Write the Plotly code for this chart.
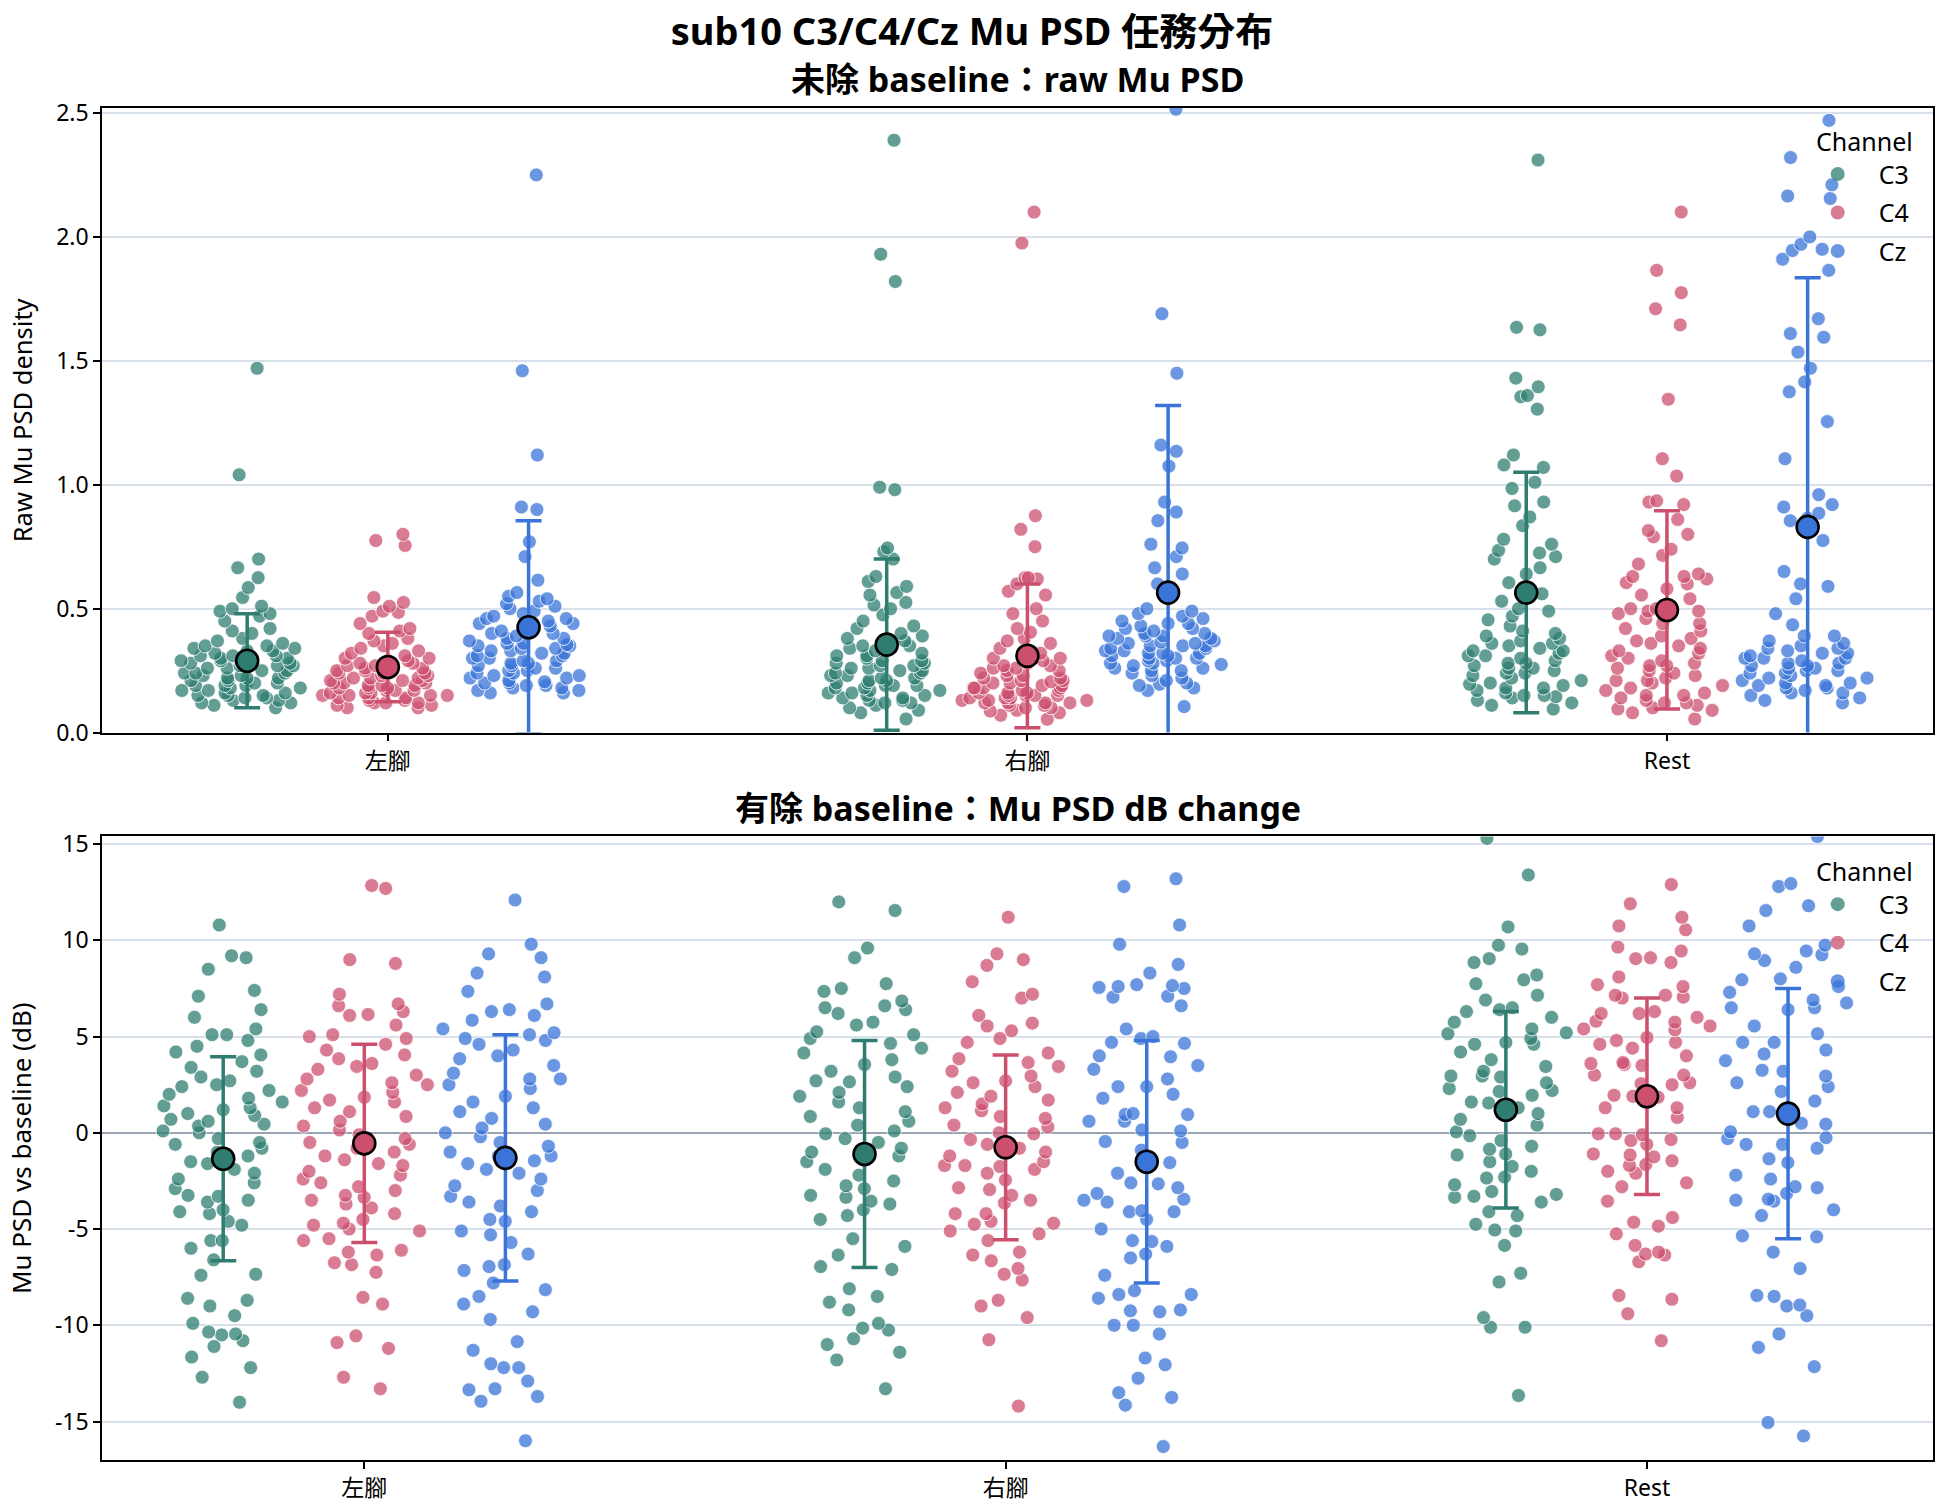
import plotly.graph_objects as go

categories = ["左腳", "右腳", "Rest"]
channels = ["C3", "C4", "Cz"]

# ---------------- raw Mu PSD (per trial) ----------------
raw_left_C3 = [1.47, 1.04, 0.70, 0.665, 0.625, 0.585, 0.545, 0.51, 0.50, 0.49, 0.48, 0.47, 0.45, 0.42, 0.41, 0.40, 0.38, 0.37, 0.36, 0.35, 0.34, 0.34, 0.33, 0.33, 0.32, 0.31, 0.31, 0.30, 0.30, 0.29, 0.29, 0.28, 0.28, 0.27, 0.27, 0.26, 0.26, 0.25, 0.25, 0.24, 0.24, 0.23, 0.23, 0.22, 0.22, 0.21, 0.21, 0.20, 0.20, 0.19, 0.19, 0.18, 0.18, 0.17, 0.17, 0.16, 0.16, 0.15, 0.15, 0.14, 0.14, 0.13, 0.13, 0.12, 0.12, 0.11, 0.15, 0.10, 0.22, 0.27, 0.31, 0.19, 0.24, 0.28, 0.35]
raw_left_C4 = [0.80, 0.775, 0.755, 0.545, 0.525, 0.51, 0.49, 0.485, 0.47, 0.44, 0.42, 0.41, 0.40, 0.38, 0.37, 0.36, 0.35, 0.34, 0.33, 0.32, 0.31, 0.30, 0.30, 0.29, 0.29, 0.28, 0.28, 0.27, 0.26, 0.26, 0.25, 0.25, 0.24, 0.24, 0.23, 0.23, 0.22, 0.22, 0.21, 0.21, 0.20, 0.20, 0.20, 0.19, 0.19, 0.18, 0.18, 0.18, 0.17, 0.17, 0.17, 0.16, 0.16, 0.16, 0.15, 0.15, 0.15, 0.14, 0.14, 0.14, 0.13, 0.13, 0.12, 0.12, 0.12, 0.11, 0.11, 0.10, 0.10, 0.24, 0.21, 0.19, 0.27, 0.22, 0.15]
raw_left_Cz = [2.25, 1.46, 1.12, 0.91, 0.90, 0.77, 0.71, 0.615, 0.565, 0.55, 0.54, 0.53, 0.52, 0.51, 0.50, 0.49, 0.48, 0.47, 0.46, 0.46, 0.45, 0.44, 0.43, 0.42, 0.41, 0.40, 0.40, 0.39, 0.38, 0.38, 0.37, 0.36, 0.36, 0.35, 0.35, 0.34, 0.34, 0.33, 0.33, 0.32, 0.32, 0.31, 0.31, 0.30, 0.30, 0.29, 0.29, 0.28, 0.28, 0.27, 0.27, 0.26, 0.26, 0.25, 0.25, 0.24, 0.24, 0.23, 0.23, 0.22, 0.22, 0.21, 0.20, 0.20, 0.19, 0.19, 0.18, 0.18, 0.17, 0.17, 0.16, 0.16, 0.355, 0.205, 0.44]
raw_right_C3 = [2.39, 1.93, 1.82, 0.99, 0.98, 0.745, 0.73, 0.70, 0.63, 0.61, 0.59, 0.565, 0.555, 0.525, 0.515, 0.50, 0.475, 0.45, 0.43, 0.42, 0.40, 0.39, 0.38, 0.37, 0.355, 0.35, 0.34, 0.33, 0.32, 0.31, 0.30, 0.29, 0.29, 0.28, 0.27, 0.27, 0.26, 0.25, 0.25, 0.24, 0.23, 0.23, 0.22, 0.22, 0.21, 0.21, 0.20, 0.20, 0.19, 0.19, 0.18, 0.18, 0.17, 0.17, 0.16, 0.16, 0.15, 0.15, 0.14, 0.14, 0.13, 0.13, 0.12, 0.12, 0.11, 0.10, 0.09, 0.08, 0.055, 0.24, 0.28, 0.31, 0.19, 0.35, 0.26]
raw_right_C4 = [2.10, 1.975, 0.875, 0.82, 0.75, 0.625, 0.625, 0.62, 0.60, 0.57, 0.555, 0.50, 0.48, 0.45, 0.42, 0.405, 0.38, 0.37, 0.36, 0.34, 0.32, 0.30, 0.30, 0.29, 0.28, 0.27, 0.27, 0.26, 0.25, 0.25, 0.24, 0.23, 0.23, 0.22, 0.22, 0.21, 0.205, 0.20, 0.20, 0.19, 0.19, 0.18, 0.18, 0.18, 0.17, 0.17, 0.16, 0.16, 0.16, 0.15, 0.15, 0.15, 0.14, 0.14, 0.14, 0.13, 0.13, 0.13, 0.12, 0.12, 0.12, 0.11, 0.11, 0.10, 0.10, 0.09, 0.087, 0.08, 0.07, 0.054, 0.21, 0.18, 0.26, 0.15, 0.12]
raw_right_Cz = [2.515, 1.69, 1.45, 1.16, 1.135, 1.075, 0.93, 0.89, 0.855, 0.76, 0.745, 0.71, 0.665, 0.64, 0.60, 0.58, 0.55, 0.50, 0.49, 0.48, 0.47, 0.46, 0.45, 0.44, 0.43, 0.42, 0.42, 0.41, 0.40, 0.40, 0.39, 0.39, 0.38, 0.38, 0.37, 0.365, 0.36, 0.36, 0.35, 0.35, 0.34, 0.34, 0.33, 0.33, 0.32, 0.32, 0.31, 0.31, 0.30, 0.30, 0.29, 0.29, 0.28, 0.275, 0.27, 0.26, 0.26, 0.25, 0.25, 0.24, 0.23, 0.22, 0.21, 0.20, 0.195, 0.19, 0.18, 0.17, 0.105, 0.39, 0.32, 0.28, 0.44, 0.35, 0.30]
raw_rest_C3 = [2.31, 1.635, 1.625, 1.43, 1.395, 1.36, 1.355, 1.305, 1.12, 1.08, 1.07, 1.01, 0.985, 0.93, 0.915, 0.87, 0.835, 0.78, 0.76, 0.735, 0.725, 0.71, 0.70, 0.665, 0.64, 0.605, 0.56, 0.53, 0.50, 0.49, 0.47, 0.455, 0.43, 0.41, 0.40, 0.39, 0.38, 0.37, 0.36, 0.35, 0.34, 0.33, 0.32, 0.31, 0.31, 0.30, 0.29, 0.28, 0.27, 0.26, 0.26, 0.25, 0.24, 0.23, 0.22, 0.21, 0.20, 0.195, 0.19, 0.18, 0.17, 0.16, 0.15, 0.145, 0.14, 0.13, 0.12, 0.11, 0.095, 0.33, 0.28, 0.24, 0.36, 0.18, 0.15]
raw_rest_C4 = [2.10, 1.865, 1.775, 1.71, 1.645, 1.345, 1.105, 1.035, 0.935, 0.93, 0.92, 0.86, 0.815, 0.80, 0.79, 0.74, 0.715, 0.68, 0.64, 0.63, 0.63, 0.62, 0.605, 0.58, 0.555, 0.54, 0.50, 0.50, 0.49, 0.49, 0.48, 0.46, 0.44, 0.42, 0.41, 0.39, 0.37, 0.36, 0.35, 0.33, 0.32, 0.31, 0.30, 0.29, 0.28, 0.27, 0.26, 0.25, 0.24, 0.23, 0.22, 0.21, 0.20, 0.19, 0.18, 0.17, 0.16, 0.15, 0.14, 0.13, 0.12, 0.11, 0.10, 0.095, 0.09, 0.08, 0.055, 0.44, 0.38, 0.27, 0.21, 0.15, 0.12, 0.60, 0.34]
raw_rest_Cz = [2.47, 2.32, 2.21, 2.165, 2.155, 2.00, 1.97, 1.95, 1.945, 1.91, 1.865, 1.67, 1.61, 1.595, 1.535, 1.47, 1.415, 1.375, 1.255, 1.105, 0.96, 0.92, 0.91, 0.885, 0.865, 0.855, 0.775, 0.65, 0.60, 0.59, 0.54, 0.48, 0.435, 0.39, 0.39, 0.37, 0.36, 0.35, 0.34, 0.33, 0.32, 0.32, 0.31, 0.30, 0.30, 0.29, 0.28, 0.28, 0.27, 0.26, 0.26, 0.25, 0.24, 0.24, 0.23, 0.22, 0.22, 0.21, 0.20, 0.20, 0.19, 0.18, 0.18, 0.17, 0.16, 0.16, 0.15, 0.14, 0.13, 0.12, 0.30, 0.25, 0.19, 0.34, 0.27]

# ---------------- Mu PSD dB change vs baseline (per trial) ----------------
db_left_C3 = [10.8, 9.2, 9.1, 8.5, 7.4, 7.1, 6.4, 6.0, 5.4, 5.1, 5.1, 4.8, 4.5, 4.2, 4.05, 3.7, 3.4, 3.2, 2.9, 2.7, 2.5, 2.4, 2.2, 2.0, 1.8, 1.6, 1.4, 1.3, 1.2, 1.0, 0.9, 0.7, 0.6, 0.45, 0.35, 0.1, 0.0, -0.3, -0.5, -0.6, -0.8, -1.0, -1.2, -1.5, -1.6, -1.9, -2.1, -2.4, -2.6, -2.9, -3.25, -3.3, -3.5, -3.6, -4.0, -4.1, -4.2, -4.6, -4.8, -5.6, -5.6, -6.0, -6.6, -7.35, -7.4, -8.6, -8.7, -9.0, -9.5, -9.9, -10.35, -10.5, -10.45, -10.8, -11.1, -11.65, -12.2, -12.7, -14.0]
db_left_C4 = [12.85, 12.7, 9.0, 8.8, 7.2, 6.7, 6.6, 6.3, 6.15, 6.1, 5.6, 5.1, 5.0, 4.9, 4.6, 4.3, 4.05, 3.85, 3.6, 3.45, 3.3, 3.0, 2.8, 2.6, 2.5, 2.2, 2.1, 1.85, 1.7, 1.6, 1.3, 1.1, 0.85, 0.6, 0.35, 0.15, -0.1, -0.3, -0.5, -0.6, -0.8, -1.0, -1.2, -1.4, -1.6, -1.7, -2.0, -2.2, -2.4, -2.6, -2.8, -3.0, -3.25, -3.35, -3.5, -3.7, -3.9, -4.2, -4.5, -4.7, -4.8, -5.0, -5.1, -5.5, -5.6, -6.1, -6.2, -6.35, -6.75, -6.85, -7.25, -8.55, -8.9, -10.55, -10.9, -11.2, -12.7, -13.3]
db_left_Cz = [12.1, 9.8, 9.3, 9.1, 8.3, 8.1, 7.35, 6.7, 6.4, 6.3, 6.1, 5.85, 5.4, 5.2, 5.1, 4.9, 4.8, 4.6, 4.3, 4.0, 3.85, 3.5, 3.1, 2.8, 2.8, 2.5, 2.3, 1.9, 1.6, 1.3, 1.1, 0.75, 0.45, 0.25, 0.0, -0.2, -0.5, -0.7, -1.0, -1.2, -1.2, -1.45, -1.6, -1.9, -2.1, -2.4, -2.75, -3.0, -3.3, -3.6, -3.8, -4.1, -4.5, -4.6, -5.1, -5.3, -5.7, -6.3, -6.85, -6.95, -7.15, -7.8, -8.15, -8.5, -8.9, -9.3, -9.7, -10.85, -11.3, -12.0, -12.2, -12.2, -12.9, -13.3, -13.35, -13.7, -13.95, -16.0]
db_right_C3 = [12.0, 11.55, 9.6, 9.1, 7.75, 7.5, 7.35, 6.85, 6.6, 6.5, 6.4, 6.2, 5.75, 5.6, 5.25, 5.1, 4.9, 4.65, 4.4, 4.15, 3.8, 3.55, 3.2, 2.9, 2.7, 2.65, 2.4, 2.1, 1.9, 1.6, 1.3, 1.1, 0.85, 0.6, 0.4, 0.1, -0.05, -0.3, -0.5, -0.8, -1.0, -1.2, -1.5, -1.9, -2.2, -2.5, -2.75, -2.9, -3.25, -3.35, -3.55, -3.7, -4.0, -4.3, -4.5, -5.5, -5.9, -6.35, -6.95, -7.1, -8.1, -8.5, -8.8, -9.2, -9.9, -10.15, -10.25, -10.7, -11.0, -11.4, -11.8, -13.3]
db_right_C4 = [11.2, 9.3, 9.0, 8.7, 7.85, 7.2, 7.0, 6.1, 5.7, 5.55, 5.3, 4.9, 4.7, 4.15, 3.85, 3.65, 3.45, 3.2, 2.95, 2.7, 2.6, 2.4, 2.1, 1.9, 1.7, 1.5, 1.3, 1.15, 0.85, 0.75, 0.4, 0.3, 0.0, -0.05, -0.35, -0.6, -0.8, -1.0, -1.2, -1.5, -1.7, -1.7, -1.75, -1.9, -2.1, -2.45, -2.85, -2.95, -3.25, -3.5, -3.65, -4.2, -4.2, -4.6, -4.7, -4.75, -5.1, -5.25, -5.6, -6.2, -6.35, -6.65, -7.05, -7.35, -7.65, -8.7, -9.0, -9.6, -10.75, -14.2]
db_right_Cz = [13.2, 12.8, 10.8, 9.8, 8.75, 8.3, 7.7, 7.6, 7.55, 7.5, 7.65, 7.1, 7.05, 6.6, 5.4, 5.0, 4.9, 4.7, 4.65, 4.0, 3.95, 3.5, 3.3, 2.8, 2.4, 2.4, 2.0, 1.8, 1.0, 0.95, 0.95, 0.6, 0.6, 0.15, 0.1, -0.45, -0.5, -0.9, -1.55, -2.1, -2.6, -2.65, -2.85, -3.15, -3.45, -3.5, -3.6, -4.05, -4.1, -4.1, -4.5, -5.0, -5.6, -5.65, -5.9, -6.3, -6.5, -7.4, -8.2, -8.4, -8.4, -8.6, -9.2, -9.25, -9.3, -10.0, -10.0, -10.45, -11.7, -12.05, -12.75, -13.5, -13.75, -14.15, -16.3]
db_rest_C3 = [15.3, 13.4, 10.7, 9.75, 9.55, 9.05, 8.85, 8.2, 7.95, 7.75, 7.15, 6.9, 6.5, 6.4, 6.3, 6.0, 5.75, 5.4, 5.2, 5.15, 4.9, 4.7, 4.6, 4.6, 4.2, 3.8, 3.45, 3.2, 2.95, 2.95, 2.9, 2.6, 2.3, 2.2, 2.15, 1.95, 1.6, 1.55, 1.3, 1.0, 0.7, 0.4, 0.05, -0.15, -0.4, -0.7, -0.85, -1.1, -1.15, -1.5, -1.75, -2.0, -2.3, -2.35, -2.7, -3.05, -3.2, -3.3, -3.35, -3.6, -4.1, -4.3, -4.75, -5.05, -5.1, -5.85, -7.3, -7.75, -9.6, -10.1, -10.1, -13.65]
db_rest_C4 = [12.9, 11.9, 11.2, 10.75, 10.55, 9.65, 9.45, 9.1, 9.05, 8.85, 8.1, 7.7, 7.6, 7.15, 7.15, 7.05, 7.0, 6.3, 6.2, 6.2, 6.0, 5.8, 5.75, 5.55, 5.4, 5.35, 4.95, 4.8, 4.7, 4.6, 4.4, 4.0, 3.65, 3.6, 3.55, 3.5, 3.0, 3.0, 2.6, 2.55, 2.5, 1.95, 1.9, 1.85, 1.3, 1.3, 0.8, -0.05, -0.05, -0.1, -0.4, -0.35, -0.6, -1.1, -1.15, -1.25, -1.45, -1.65, -1.7, -2.0, -2.1, -2.6, -2.8, -3.55, -4.4, -4.65, -4.85, -5.25, -5.85, -6.2, -6.3, -6.35, -6.7, -8.45, -8.65, -9.4, -10.8]
db_rest_Cz = [15.4, 12.95, 12.8, 11.8, 11.55, 10.75, 9.75, 9.45, 9.3, 9.25, 8.95, 8.6, 8.0, 7.95, 7.6, 7.3, 6.9, 6.75, 6.5, 6.5, 6.4, 5.55, 5.15, 4.7, 4.7, 4.3, 4.1, 3.75, 3.25, 3.2, 2.95, 2.6, 2.4, 2.15, 1.65, 1.1, 1.1, 0.5, 0.45, 0.05, -0.3, -0.25, -0.6, -0.6, -0.8, -1.35, -1.55, -2.2, -2.4, -2.8, -2.85, -3.15, -3.45, -3.5, -3.55, -4.0, -4.3, -5.35, -5.4, -6.2, -7.05, -8.45, -8.5, -8.95, -9.0, -9.5, -10.45, -11.15, -12.15, -15.05, -15.75]

# ---------------- summary (mean ± SD) per task ----------------
raw_mean_C3 = [0.29, 0.355, 0.565]
raw_mean_C4 = [0.265, 0.31, 0.495]
raw_mean_Cz = [0.425, 0.565, 0.83]
raw_sd_C3 = [0.19, 0.345, 0.485]
raw_sd_C4 = [0.14, 0.29, 0.40]
raw_sd_Cz = [0.43, 0.755, 1.005]
db_mean_C3 = [-1.35, -1.1, 1.2]
db_mean_C4 = [-0.55, -0.75, 1.9]
db_mean_Cz = [-1.3, -1.5, 1.0]
db_sd_C3 = [5.3, 5.9, 5.1]
db_sd_C4 = [5.15, 4.8, 5.1]
db_sd_Cz = [6.4, 6.3, 6.5]

raw_yticks = [0, 0.5, 1.0, 1.5, 2.0, 2.5]
raw_yticklabels = ["0.0", "0.5", "1.0", "1.5", "2.0", "2.5"]
db_yticks = [-15, -10, -5, 0, 5, 10, 15]
db_yticklabels = ["-15", "-10", "-5", "0", "5", "10", "15"]

# ---------------- styling ----------------
solid = {"C3": "#2e7d70", "C4": "#cc4f6e", "Cz": "#3a74d8"}
faded = {"C3": "rgba(46,125,112,0.75)", "C4": "rgba(204,79,110,0.75)", "Cz": "rgba(58,116,216,0.75)"}
dodge = {"C3": -0.22, "C4": 0.0, "Cz": 0.22}
FONT = "Noto Sans, Noto Sans CJK TC, sans-serif"

panels = [
    dict(xa="x", ya="y", legend="legend",
         trials={"C3": [raw_left_C3, raw_right_C3, raw_rest_C3],
                 "C4": [raw_left_C4, raw_right_C4, raw_rest_C4],
                 "Cz": [raw_left_Cz, raw_right_Cz, raw_rest_Cz]},
         means={"C3": raw_mean_C3, "C4": raw_mean_C4, "Cz": raw_mean_Cz},
         sds={"C3": raw_sd_C3, "C4": raw_sd_C4, "Cz": raw_sd_Cz}),
    dict(xa="x2", ya="y2", legend="legend2",
         trials={"C3": [db_left_C3, db_right_C3, db_rest_C3],
                 "C4": [db_left_C4, db_right_C4, db_rest_C4],
                 "Cz": [db_left_Cz, db_right_Cz, db_rest_Cz]},
         means={"C3": db_mean_C3, "C4": db_mean_C4, "Cz": db_mean_Cz},
         sds={"C3": db_sd_C3, "C4": db_sd_C4, "Cz": db_sd_Cz}),
]

fig = go.Figure()

for p in panels:
    # jittered trial points (strip plot via invisible boxes)
    for ch in channels:
        for k, vals in enumerate(p["trials"][ch]):
            fig.add_trace(go.Box(
                y=vals, x0=k + dodge[ch], width=0.21,
                boxpoints="all", jitter=1, pointpos=0,
                fillcolor="rgba(0,0,0,0)",
                line=dict(width=0, color="rgba(0,0,0,0)"),
                marker=dict(color=faded[ch], size=14, line=dict(color="white", width=0.8)),
                showlegend=False, hoverinfo="y",
                xaxis=p["xa"], yaxis=p["ya"]))
    # mean ± SD
    for ch in channels:
        fig.add_trace(go.Scatter(
            x=[k + dodge[ch] for k in range(len(categories))],
            y=p["means"][ch], mode="markers",
            error_y=dict(type="data", array=p["sds"][ch], color=solid[ch], thickness=3.5, width=13),
            marker=dict(color=solid[ch], size=22, line=dict(color="black", width=2.6)),
            showlegend=False, xaxis=p["xa"], yaxis=p["ya"]))
    # legend entries
    for ch in channels:
        fig.add_trace(go.Scatter(
            x=[None], y=[None], mode="markers", name=ch,
            marker=dict(color=faded[ch], size=14),
            legendgroup=p["legend"] + ch, legend=p["legend"], showlegend=True,
            xaxis=p["xa"], yaxis=p["ya"]))

axis_common = dict(showline=True, mirror=True, linecolor="black", linewidth=1.5,
                   ticks="outside", ticklen=7, tickwidth=1.5, tickcolor="black",
                   tickfont=dict(size=23, color="black"))

legend_common = dict(xanchor="right", yanchor="top", bgcolor="rgba(0,0,0,0)", borderwidth=0,
                     font=dict(size=25, color="black"), itemwidth=72, tracegroupgap=3,
                     title=dict(text="Channel", side="top right", font=dict(size=25)))

fig.update_layout(
    width=1944, height=1512,
    margin=dict(l=102, r=9, t=108, b=51),
    paper_bgcolor="white", plot_bgcolor="white",
    font=dict(family=FONT, size=23, color="black"),
    title=dict(text="<b>sub10 C3/C4/Cz Mu PSD 任務分布</b>", x=0.5, xanchor="center",
               y=1 - 32 / 1512, yanchor="middle", font=dict(size=38)),
    xaxis=dict(domain=[0, 1], anchor="y", range=[-0.447, 2.416],
               tickvals=[0, 1, 2], ticktext=categories, showgrid=False, zeroline=False, **axis_common),
    yaxis=dict(domain=[0.538, 1], anchor="x", range=[0, 2.52],
               tickvals=raw_yticks, ticktext=raw_yticklabels,
               showgrid=True, gridcolor="#d8e1eb", gridwidth=1.5, zeroline=False,
               title=dict(text="Raw Mu PSD density", font=dict(size=25.5), standoff=16), **axis_common),
    xaxis2=dict(domain=[0, 1], anchor="y2", range=[-0.409, 2.446],
                tickvals=[0, 1, 2], ticktext=categories, showgrid=False, zeroline=False, **axis_common),
    yaxis2=dict(domain=[0, 0.4612], anchor="x2", range=[-17.0, 15.4],
                tickvals=db_yticks, ticktext=db_yticklabels,
                showgrid=True, gridcolor="#d8e1eb", gridwidth=1.5,
                zeroline=True, zerolinecolor="#98a4b3", zerolinewidth=2.2,
                title=dict(text="Mu PSD vs baseline (dB)", font=dict(size=26), standoff=16), **axis_common),
    legend=dict(x=0.990, y=0.992, **legend_common),
    legend2=dict(x=0.990, y=0.452, **legend_common),
    annotations=[
        dict(text="<b>未除 baseline：raw Mu PSD</b>", x=0.5, xref="paper", y=1.0214, yref="paper",
             xanchor="center", yanchor="middle", showarrow=False, font=dict(size=34)),
        dict(text="<b>有除 baseline：Mu PSD dB change</b>", x=0.5, xref="paper", y=0.4826, yref="paper",
             xanchor="center", yanchor="middle", showarrow=False, font=dict(size=34)),
    ],
)

fig.write_html("out.html")
